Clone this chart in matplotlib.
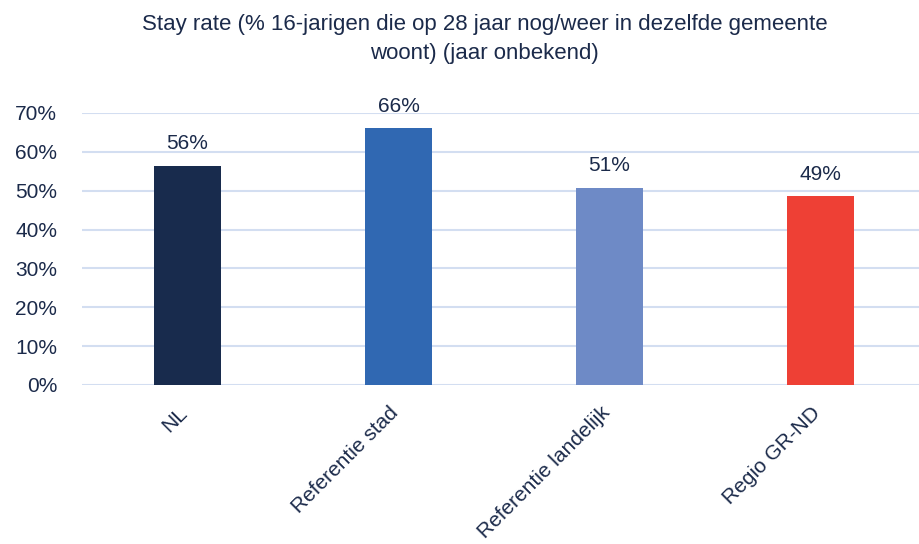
import matplotlib
matplotlib.use("Agg")
import matplotlib.pyplot as plt
import matplotlib.transforms as mtransforms
from matplotlib.ticker import PercentFormatter

# data
categories = ["NL", "Referentie stad", "Referentie landelijk", "Regio GR-ND"]
stay_rate = [56.4, 66.1, 50.7, 48.6]
labels = ["56%", "66%", "51%", "49%"]
colors = ["#182B4D", "#3068B2", "#6E8AC6", "#EE4035"]

text_color = "#1B2A4A"
grid_color = "#D3DEF1"

plt.rcParams["font.family"] = ["Liberation Sans", "DejaVu Sans"]

fig = plt.figure(figsize=(9.19, 5.44), dpi=100)
ax = fig.add_axes([82 / 919, (544 - 385) / 544, 844 / 919, 272 / 544])

x = range(len(categories))
bars = ax.bar(x, stay_rate, width=0.313, color=colors, zorder=3)

for b, lab in zip(bars, labels):
    ax.annotate(lab, (b.get_x() + b.get_width() / 2, b.get_height()),
                xytext=(0, 9), textcoords="offset points",
                ha="center", va="bottom", fontsize=15, color=text_color)

ax.set_xlim(-0.5, len(categories) - 0.5)
ax.set_ylim(0, 70)
ax.set_yticks(range(0, 71, 10))
ax.yaxis.set_major_formatter(PercentFormatter(decimals=0))
ax.grid(axis="y", color=grid_color, linewidth=1.5, zorder=0)
ax.set_xticks(list(x))
ax.set_xticklabels(categories, rotation=45, ha="right", fontsize=15, color=text_color)
ax.tick_params(axis="both", length=0, labelsize=15, colors=text_color)
ax.tick_params(axis="y", pad=18)
ax.tick_params(axis="x", pad=13)
# nudge the rotated labels a little to the right
shift = mtransforms.ScaledTranslation(4 / 100, 0, fig.dpi_scale_trans)
for t in ax.get_xticklabels():
    t.set_transform(t.get_transform() + shift)
for s in ax.spines.values():
    s.set_visible(False)

fig.text(0.527, 0.975,
         "Stay rate (% 16-jarigen die op 28 jaar nog/weer in dezelfde gemeente\nwoont) (jaar onbekend)",
         ha="center", va="top", fontsize=16, color=text_color, linespacing=1.5)

fig.savefig("out.png", dpi=100)
